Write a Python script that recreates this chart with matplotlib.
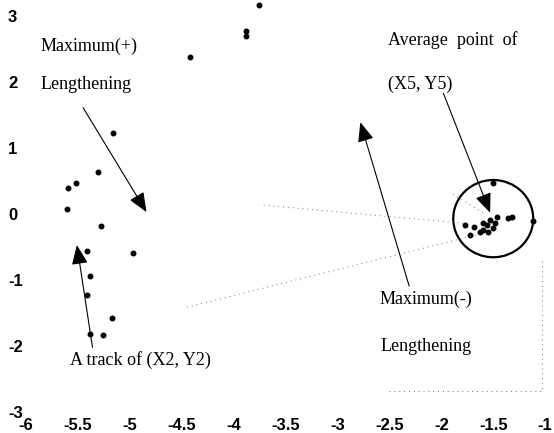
import matplotlib.pyplot as plt
from matplotlib.patches import Ellipse

# track of (X2, Y2)
x_track = [-3.76, -3.88, -3.88, -4.42, -5.16, -5.31, -5.52, -5.60, -5.61,
           -5.28, -5.41, -4.97, -5.38, -5.41, -5.17, -5.38, -5.26]
y_track = [3.17, 2.78, 2.70, 2.38, 1.23, 0.64, 0.47, 0.39, 0.08,
           -0.18, -0.56, -0.59, -0.94, -1.23, -1.58, -1.82, -1.83]

# points around the average (X5, Y5)
x_avg = [-1.50, -1.12, -1.32, -1.36, -1.46, -1.53, -1.56, -1.60, -1.50,
         -1.48, -1.63, -1.77, -1.72, -1.69, -1.60, -1.55]
y_avg = [0.47, -0.11, -0.05, -0.06, -0.05, -0.09, -0.17, -0.24, -0.21,
         -0.14, -0.27, -0.17, -0.32, -0.20, -0.14, -0.27]

xticks = [-6, -5.5, -5, -4.5, -4, -3.5, -3, -2.5, -2, -1.5, -1]
yticks = [-3, -2, -1, 0, 1, 2, 3]

fig = plt.figure(figsize=(5.54, 4.33), dpi=100)
ax = fig.add_axes([0.047, 0.0485, 0.937, 0.9145])
ax.set_xlim(-6, -1)
ax.set_ylim(-3, 3)
for s in ax.spines.values():
    s.set_visible(False)

ax.plot(x_track, y_track, "k.", ms=6.5, clip_on=False)
ax.plot(x_avg, y_avg, "k.", ms=6.5, clip_on=False)

ax.add_patch(Ellipse((-1.50, -0.07), 0.77, 1.17, fill=False, lw=1.6, color="black"))

# faint dotted guide lines from the scan
dot = dict(color="0.45", lw=0.7, ls=(0, (1, 4)))
ax.plot([-1.79, -3.75], [-0.14, 0.14], **dot)
ax.plot([-1.67, -4.47], [-0.32, -1.42], **dot)
ax.plot([-1.60, -1.92], [0.02, 0.33], **dot)
ax.plot([-2.5, -1.03, -1.03], [-2.68, -2.68, -0.67], **dot)

arrow = dict(arrowstyle="-|>,head_length=0.6,head_width=0.25", mutation_scale=20,
             color="black", lw=0.8, shrinkA=0, shrinkB=0)
ax.annotate("", xy=(-4.84, 0.03), xytext=(-5.45, 1.61), arrowprops=arrow)
ax.annotate("", xy=(-5.51, -0.47), xytext=(-5.36, -2.02), arrowprops=arrow)
ax.annotate("", xy=(-2.78, 1.39), xytext=(-2.31, -1.09), arrowprops=arrow)
ax.annotate("", xy=(-1.53, 0.02), xytext=(-1.98, 1.83), arrowprops=arrow)

tf = dict(family="Liberation Serif", fontsize=13, ha="left", va="center")
ax.text(-5.865, 2.545, "Maximum(+)", **tf)
ax.text(-5.865, 1.955, "Lengthening", **tf)
ax.text(-5.576, -2.21, "A track of (X2, Y2)", **tf)
ax.text(-2.513, 2.636, "Average  point  of", **tf)
ax.text(-2.513, 1.97, "(X5, Y5)", **tf)
ax.text(-2.60, -1.29, "Maximum(-)", **tf)
ax.text(-2.59, -2.0, "Lengthening", **tf)

ax.set_xticks(xticks)
ax.set_xticklabels([f"{v:g}" for v in xticks])
ax.set_yticks(yticks)
ax.set_yticklabels([f"{v:g}" for v in yticks])
ax.tick_params(length=0, labelsize=12)
ax.tick_params(axis="x", pad=4)
ax.tick_params(axis="y", pad=13)
for lab in ax.get_xticklabels() + ax.get_yticklabels():
    lab.set_fontfamily("Liberation Sans")
    lab.set_fontweight("bold")
for lab in ax.get_yticklabels():
    lab.set_ha("left")

fig.savefig("out.png", dpi=100)
